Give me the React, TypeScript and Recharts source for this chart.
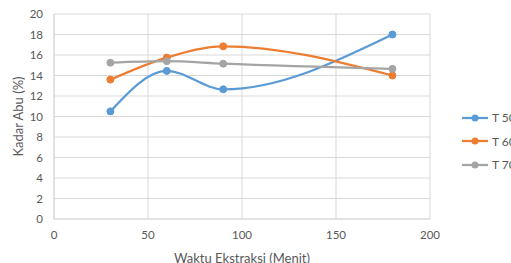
import { LineChart, Line, XAxis, YAxis, CartesianGrid } from 'recharts'

const minutes = [30, 60, 90, 180]
const t50 = [10.5, 14.45, 12.65, 18.0]
const t60 = [13.6, 15.75, 16.85, 14.0]
const t70 = [15.25, 15.4, 15.15, 14.65]
const xTicks = [0, 50, 100, 150, 200]
const yTicks = [0, 2, 4, 6, 8, 10, 12, 14, 16, 18, 20]

const seriesList = [
  { key: 't50', name: 'T 50', color: '#5B9BD5' },
  { key: 't60', name: 'T 60', color: '#ED7D31' },
  { key: 't70', name: 'T 70', color: '#A5A5A5' },
]

const data = minutes.map((m, i) => ({ m, t50: t50[i], t60: t60[i], t70: t70[i] }))

const FONT = 'Lato, "Open Sans", sans-serif'
const tickStyle = { fontSize: 11.5, fill: '#595959', fontFamily: FONT }
const titleStyle = { fontSize: 13, fill: '#595959', fontFamily: FONT }

// legend sits outside the plot so it doesn't eat chart height
function LegendBox() {
  return (
    <div style={{ position: 'absolute', left: 462, top: 106, fontFamily: FONT, fontSize: 12, color: '#595959' }}>
      {seriesList.map((s) => (
        <div key={s.key} style={{ display: 'flex', alignItems: 'center', height: 23.5, whiteSpace: 'nowrap' }}>
          <svg width={27} height={10}>
            <line x1={0} y1={5} x2={26} y2={5} stroke={s.color} strokeWidth={2.25} />
            <circle cx={13} cy={5} r={3.5} fill={s.color} />
          </svg>
          <span style={{ marginLeft: 3 }}>{s.name}</span>
        </div>
      ))}
    </div>
  )
}

export default function App() {
  return (
    <div style={{ position: 'absolute', left: 0, top: 0, width: 511, height: 263, background: '#fff', overflow: 'hidden' }}>
      <LineChart width={511} height={263} data={data} margin={{ top: 14, right: 81, left: 0, bottom: 0 }}>
        <CartesianGrid stroke="#d9d9d9" strokeWidth={1} />
        <XAxis
          dataKey="m"
          type="number"
          domain={[0, 200]}
          ticks={xTicks}
          interval={0}
          height={44}
          tick={tickStyle}
          tickLine={false}
          tickSize={0}
          tickMargin={12}
          axisLine={{ stroke: '#d9d9d9' }}
          label={{ value: 'Waktu Ekstraksi (Menit)', position: 'insideBottom', offset: 0, style: titleStyle }}
        />
        <YAxis
          type="number"
          domain={[0, 20]}
          ticks={yTicks}
          interval={0}
          width={54}
          tick={tickStyle}
          tickLine={false}
          tickSize={0}
          tickMargin={11}
          axisLine={{ stroke: '#d9d9d9' }}
          label={{ value: 'Kadar Abu (%)', angle: -90, position: 'insideLeft', offset: 18, style: { ...titleStyle, textAnchor: 'middle' } }}
        />
        {seriesList.map((s) => (
          <Line
            key={s.key}
            dataKey={s.key}
            name={s.name}
            type="monotone"
            stroke={s.color}
            strokeWidth={2.25}
            dot={{ r: 3.5, fill: s.color, stroke: s.color, strokeWidth: 1 }}
            activeDot={false}
            isAnimationActive={false}
          />
        ))}
      </LineChart>
      <LegendBox />
    </div>
  )
}
